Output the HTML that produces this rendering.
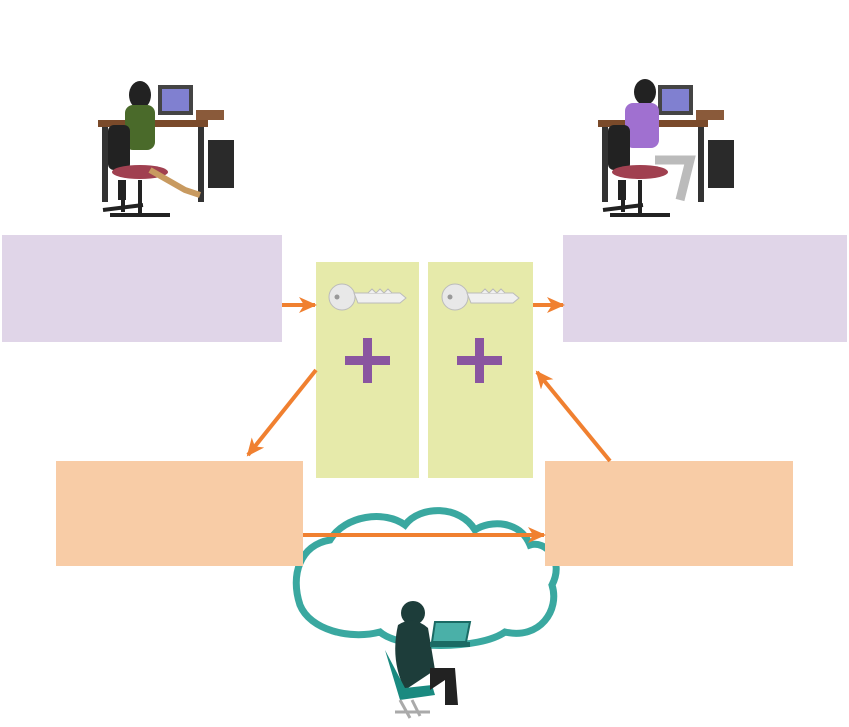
<!DOCTYPE html>
<html><head><meta charset="utf-8"><style>body{margin:0;background:#fff}</style></head><body>
<svg width="849" height="722" viewBox="0 0 849 722" xmlns="http://www.w3.org/2000/svg">
<defs>
<marker id="a" markerWidth="18" markerHeight="16" refX="16" refY="8" orient="auto" markerUnits="userSpaceOnUse"><path d="M0,0 L18,8 L0,16 L5,8z" fill="#f08030"/></marker>
<g id="key"><circle cx="14" cy="15" r="13" fill="#e8e8e8" stroke="#bbb"/><circle cx="9" cy="15" r="2.5" fill="#999"/><path d="M26,11 L72,11 L78,16 L72,21 L30,21 Z" fill="#f0f0f0" stroke="#bbb"/><path d="M40,11 l4,-4 4,4 4,-4 4,4 4,-4 4,4" fill="#f0f0f0" stroke="#bbb"/></g>
<g id="desk"><rect x="0" y="40" width="110" height="7" fill="#7a4a2a"/><rect x="4" y="47" width="6" height="75" fill="#333"/><rect x="100" y="47" width="6" height="75" fill="#333"/><rect x="110" y="60" width="26" height="48" fill="#2a2a2a"/><rect x="60" y="5" width="35" height="30" fill="#444"/><rect x="64" y="9" width="27" height="22" fill="#8080d0"/><rect x="98" y="30" width="28" height="10" fill="#8a5a3a"/><rect x="20" y="100" width="8" height="20" fill="#222"/><path d="M5,130 L45,125 M25,118 L25,132" stroke="#222" stroke-width="4"/></g>
</defs>
<path d="M330,540 C300,545 290,575 300,605 C310,630 350,640 380,632 C400,650 480,650 505,632 C540,640 560,610 552,585 C565,560 545,540 530,545 C520,520 490,520 475,530 C460,505 420,505 405,525 C385,510 345,515 330,540 Z" fill="none" stroke="#3aa8a0" stroke-width="7"/>
<rect x="2" y="235" width="280" height="107" fill="#e0d5e8"/>
<rect x="563" y="235" width="284" height="107" fill="#e0d5e8"/>
<rect x="316" y="262" width="103" height="216" fill="#e6eaaa"/>
<rect x="428" y="262" width="105" height="216" fill="#e6eaaa"/>
<rect x="56" y="461" width="247" height="105" fill="#f8cca6"/>
<rect x="545" y="461" width="248" height="105" fill="#f8cca6"/>
<use href="#key" x="328" y="282"/><use href="#key" x="441" y="282"/>
<g fill="#8a55a0"><rect x="345" y="356" width="45" height="9"/><rect x="363" y="338" width="9" height="45"/><rect x="457" y="356" width="45" height="9"/><rect x="475" y="338" width="9" height="45"/></g>
<g stroke="#f08030" stroke-width="4" fill="none">
<line x1="282" y1="305" x2="315" y2="305" marker-end="url(#a)"/>
<line x1="533" y1="305" x2="563" y2="305" marker-end="url(#a)"/>
<line x1="316" y1="370" x2="248" y2="455" marker-end="url(#a)"/>
<line x1="610" y1="461" x2="537" y2="372" marker-end="url(#a)"/>
<line x1="303" y1="535" x2="544" y2="535" marker-end="url(#a)"/>
</g>
<use href="#desk" x="98" y="80"/><use href="#desk" x="598" y="80"/>
<g><ellipse cx="140" cy="95" rx="11" ry="14" fill="#222"/><rect x="125" y="105" width="30" height="45" rx="8" fill="#4a6a2a"/><rect x="108" y="125" width="22" height="45" rx="6" fill="#222"/><ellipse cx="140" cy="172" rx="28" ry="7" fill="#a04050"/><path d="M150,170 L185,190 L200,195" stroke="#c89a60" stroke-width="6" fill="none"/><path d="M110,215 L170,215 M140,180 L140,215" stroke="#222" stroke-width="4"/></g>
<g><ellipse cx="645" cy="92" rx="11" ry="13" fill="#222"/><rect x="625" y="103" width="34" height="45" rx="8" fill="#a070d0"/><rect x="608" y="125" width="22" height="45" rx="6" fill="#222"/><ellipse cx="640" cy="172" rx="28" ry="7" fill="#a04050"/><path d="M655,160 L690,160 L680,200" stroke="#bbb" stroke-width="9" fill="none"/><path d="M610,215 L670,215 M640,180 L640,215" stroke="#222" stroke-width="4"/></g>
<g><ellipse cx="413" cy="613" rx="12" ry="12" fill="#1d3d3a"/><path d="M398,625 Q413,615 428,628 L435,670 L405,690 Q390,660 398,625Z" fill="#1d3d3a"/><path d="M385,650 L400,700 L435,695 L432,685 L405,688Z" fill="#1a8a80"/><path d="M430,668 L455,668 L458,705 L445,705 L445,680 L430,690Z" fill="#222"/><path d="M435,622 L470,622 L466,642 L432,642Z" fill="#4ab0a8" stroke="#1a6a64" stroke-width="2"/><rect x="430" y="642" width="40" height="5" fill="#1a6a64"/><path d="M400,700 L410,718 M412,700 L420,716 M395,712 L430,712" stroke="#aaa" stroke-width="3"/></g>
</svg>
</body></html>
